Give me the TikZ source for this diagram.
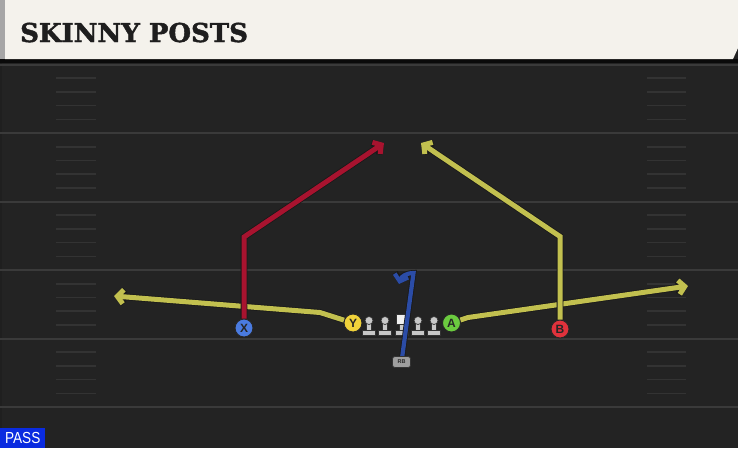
\documentclass[tikz,border=0pt]{standalone}
\usepackage{fontspec}
\setmainfont{Liberation Sans}
\newfontfamily\titlefont{DejaVu Serif}[BoldFeatures={FakeBold=1.6}]
\usetikzlibrary{arrows.meta}
\definecolor{fieldbg}{HTML}{232323}
\definecolor{majorcol}{HTML}{3A3A3A}
\definecolor{hashcol}{HTML}{333333}
\definecolor{cream}{HTML}{F4F2EC}
\definecolor{titlecol}{HTML}{1E1E1E}
\definecolor{passblue}{HTML}{0A2BE0}
\definecolor{redroute}{HTML}{A8132F}
\definecolor{yelroute}{HTML}{C2C04F}
\definecolor{blueroute}{HTML}{2B4CA6}
\definecolor{xcol}{HTML}{4A7BE0}
\definecolor{ycol}{HTML}{F0D23A}
\definecolor{acol}{HTML}{6BCB3F}
\definecolor{bcol}{HTML}{E0323C}
\definecolor{olcol}{HTML}{C8C8C8}
\tikzset{
  majorline/.style={draw=majorcol, line width=2pt},
  hashmark/.style={draw=hashcol, line width=1.6pt},
  player/.style={circle, draw=black!85, line width=0.9pt, minimum size=18pt, inner sep=0pt,
    font=\bfseries\fontsize{12}{12}\selectfont, text=black!85},
  routeline/.style={line width=5pt, line join=miter, -{Straight Barb[length=6pt,width=14pt]}},
  routeout/.style={routeline, draw=black!90, line width=6.6pt},
  lineman/.style={fill=olcol, draw=black!80, line width=0.7pt},
  rbbox/.style={rounded corners=2.5pt, fill=black!38, draw=black!80, line width=0.7pt,
    minimum width=18pt, minimum height=11pt, inner sep=0pt,
    font=\bfseries\fontsize{5.5}{5.5}\selectfont, text=black!85}
}
\newcommand\playroute[2]{\draw[routeout] #2; \draw[routeline, draw=#1] #2;}
\begin{document}
\begin{tikzpicture}[x=1pt,y=-1pt]
\useasboundingbox (0,0) rectangle (738,448);
\fill[fieldbg] (0,0) rectangle (738,448);
\fill[black!12!fieldbg] (0,63) rectangle (2,428);
% yard lines
\foreach \yy in {64.5,133,201.5,270,338.5,407}
  \draw[majorline] (0,\yy) -- (738,\yy);
% hash marks
\foreach \bb in {64.5,133,201.5,270,338.5}
  \foreach \k in {1,...,4} {
    \draw[hashmark] (56,\bb+13.7*\k) -- (96,\bb+13.7*\k);
    \draw[hashmark] (647,\bb+13.7*\k) -- (686,\bb+13.7*\k);
  }
% title banner
\fill[black!70!fieldbg] (0,59) rectangle (738,63);
\fill[black!35] (0,0) rectangle (5,59);
\fill[cream] (5,0) -- (738,0) -- (738,48) -- (733,59) -- (5,59) -- cycle;
\node[anchor=base west, inner sep=0pt, text=titlecol,
  font=\titlefont\bfseries\fontsize{26}{26}\selectfont] (title) at (20,42) {SKINNY POSTS};
% PASS label
\node[fill=passblue, text=white, anchor=south west, minimum width=45pt, minimum height=20pt,
  inner sep=0pt, font=\fontsize{16}{16}\selectfont] (pass) at (0,448) {\scalebox{0.85}[1]{PASS}};
% players
\node[player, fill=xcol] (X) at (244,328) {X};
\node[player, fill=ycol] (Y) at (353,323) {Y};
\node[player, fill=acol] (A) at (451.5,323) {A};
\node[player, fill=bcol] (B) at (560,329) {B};
\node[rbbox] (RB) at (401.5,362) {RB};
% route waypoints
\coordinate (yb) at (320,312.5);
\coordinate (yend) at (114,296);
\coordinate (ab) at (468,317.5);
\coordinate (aend) at (688,286);
\coordinate (xc) at (244,237);
\coordinate (xend) at (384,143);
\coordinate (bc) at (560,236.5);
\coordinate (bend) at (421,143);
\coordinate (rbt) at (413.5,273);
\coordinate (rbend) at (399,284);
% routes
\playroute{yelroute}{(Y) -- (yb) -- (yend)}
\playroute{yelroute}{(A) -- (ab) -- (aend)}
\playroute{redroute}{(X) -- (xc) -- (xend)}
\playroute{yelroute}{(B) -- (bc) -- (bend)}
% linemen
\foreach \lx in {369,385,418,434} {
  \draw[lineman] (\lx-6.5,330) rectangle (\lx+6.5,335);
  \draw[lineman] (\lx-2.5,323) rectangle (\lx+2.5,330);
  \draw[lineman] (\lx,320.5) circle (4);
}
\draw[lineman] (395,330) rectangle (408,335);
\draw[lineman] (399,323) rectangle (404,330);
\draw[lineman, fill=black!6] (396.5,314) rectangle (407,324);
% RB route
\draw[routeout, line width=5.8pt] (RB) -- (rbt) .. controls (406,273) and (401,277) .. (rbend);
\draw[routeline, line width=4.2pt, draw=blueroute] (RB) -- (rbt) .. controls (406,273) and (401,277) .. (rbend);
\node[rbbox] at (RB) {RB};
\end{tikzpicture}
\end{document}
